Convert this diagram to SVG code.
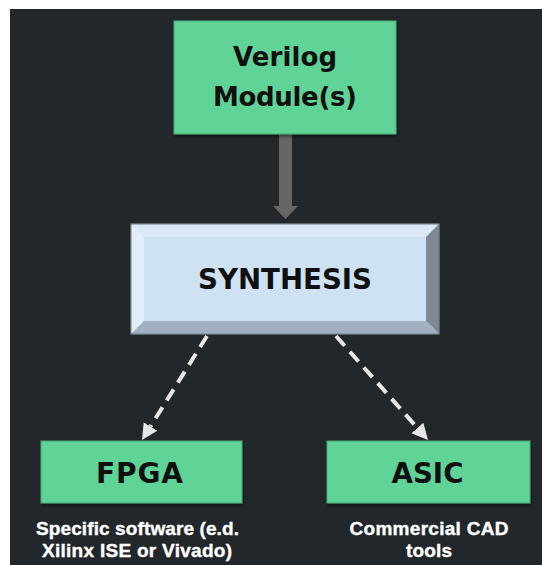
<svg xmlns="http://www.w3.org/2000/svg" width="542" height="565" viewBox="0 0 542 565">
<defs>
<style>
.bg{fill:#21272a}
.green{fill:#60d396;stroke:#4aa877;stroke-width:1}
.lbl{font-family:"DejaVu Sans","Liberation Sans",sans-serif;font-weight:700;fill:#101010;text-anchor:middle}
.cap{font-family:"Liberation Sans",Arial,sans-serif;font-weight:700;fill:#ffffff;stroke:#ffffff;stroke-width:0.4;text-anchor:middle;font-size:19px}
.dash{stroke:#e6e6e6;stroke-width:4;stroke-dasharray:13 8;fill:none}
</style>
<marker id="ah" markerWidth="4" markerHeight="5" refX="0" refY="2.5" orient="auto" markerUnits="strokeWidth">
<path d="M0,0.5 L4,2.5 L0,4.5 Z" fill="#e6e6e6"/>
</marker>
<filter id="sh" x="-10%" y="-10%" width="120%" height="130%">
<feDropShadow dx="1" dy="2" stdDeviation="1.5" flood-color="#000" flood-opacity="0.5"/>
</filter>
</defs>
<rect x="0" y="0" width="542" height="565" fill="#ffffff"/>
<rect class="bg" x="10" y="9" width="532" height="556"/>

<g id="connectors">
<path d="M279,134 L292,134 L292,206 L298,206 L285.5,219 L273,206 L279,206 Z" fill="#666666"/>
<line class="dash" x1="207" y1="336" x2="150.5" y2="426.4" marker-end="url(#ah)"/>
<line class="dash" x1="336" y1="336" x2="417.4" y2="428" marker-end="url(#ah)"/>
</g>

<g id="verilog">
<rect class="green" x="174" y="21" width="222" height="113" filter="url(#sh)"/>
<text class="lbl" x="285" y="66" font-size="26" textLength="104" lengthAdjust="spacing">Verilog</text>
<text class="lbl" x="285" y="106" font-size="26" textLength="144" lengthAdjust="spacing">Module(s)</text>
</g>

<g id="synthesis">
<rect x="131" y="224" width="308" height="110" fill="#cfe2f3" stroke="#6f7a84" stroke-width="1"/>
<polygon points="131,224 439,224 426,237 144,237" fill="#dbe8f6"/>
<polygon points="131,224 144,237 144,321 131,334" fill="#e4eef9"/>
<polygon points="439,224 439,334 426,321 426,237" fill="#7f8993"/>
<polygon points="131,334 144,321 426,321 439,334" fill="#a2b1c1"/>
<rect x="131" y="224" width="308" height="110" fill="none" stroke="#6f7a84" stroke-width="1"/>
<text class="lbl" x="285" y="289" font-size="29" textLength="174" lengthAdjust="spacingAndGlyphs">SYNTHESIS</text>
</g>

<g id="fpga">
<rect class="green" x="41" y="441" width="201" height="62" filter="url(#sh)"/>
<text class="lbl" x="139.5" y="483" font-size="28" textLength="87" lengthAdjust="spacing">FPGA</text>
<text class="cap" x="137.5" y="535" textLength="203" lengthAdjust="spacing">Specific software (e.d.</text>
<text class="cap" x="137" y="557" textLength="190" lengthAdjust="spacing">Xilinx ISE or Vivado)</text>
</g>

<g id="asic">
<rect class="green" x="327" y="441" width="203" height="62" filter="url(#sh)"/>
<text class="lbl" x="427.5" y="483" font-size="28" textLength="72" lengthAdjust="spacingAndGlyphs">ASIC</text>
<text class="cap" x="429" y="535" textLength="159" lengthAdjust="spacing">Commercial CAD</text>
<text class="cap" x="429" y="557" textLength="46" lengthAdjust="spacing">tools</text>
</g>
</svg>
